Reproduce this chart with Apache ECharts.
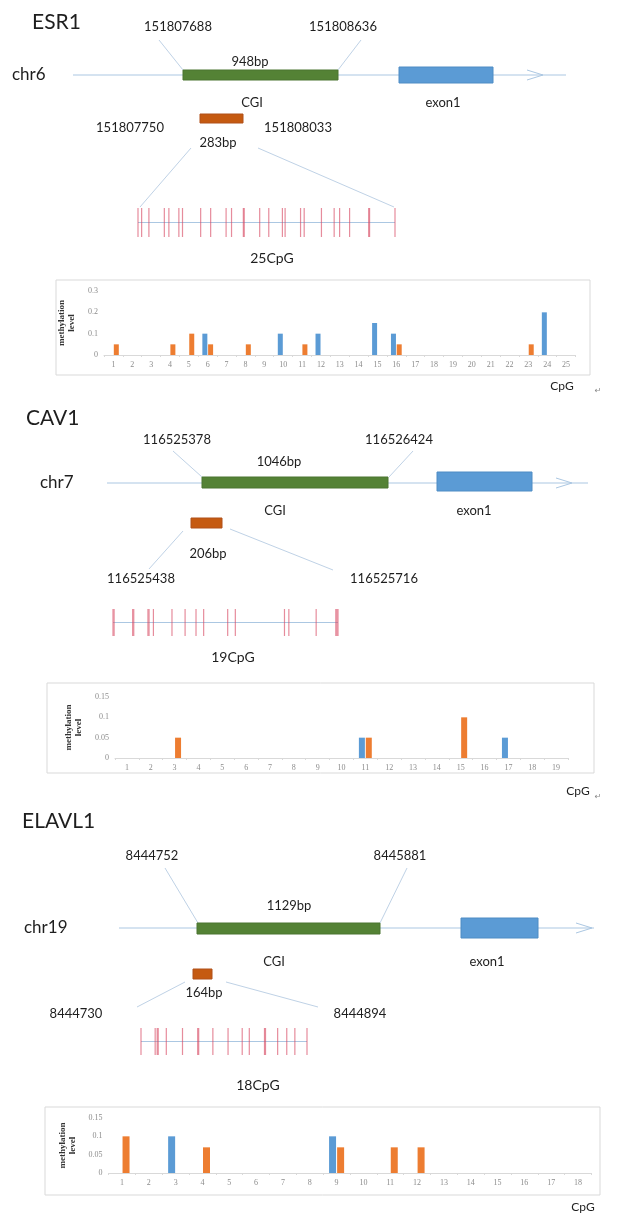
<!DOCTYPE html>
<html>
<head>
<meta charset="utf-8">
<script src="https://cdn.jsdelivr.net/npm/echarts@6/dist/echarts.min.js"></script>
<style>
html,body{margin:0;padding:0;background:#fff;}
#main{width:624px;height:1214px;}
</style>
</head>
<body>
<div id="main"></div>
<script>
// ---------------- data ----------------
const esr1Cats = ['1','2','3','4','5','6','7','8','9','10','11','12','13','14','15','16','17','18','19','20','21','22','23','24','25'];
const esr1Blue   = [0,0,0,0,0,0.1,0,0,0,0.1,0,0.1,0,0,0.15,0.1,0,0,0,0,0,0,0,0.2,0];
const esr1Orange = [0.05,0,0,0.05,0.1,0.05,0,0.05,0,0,0.05,0,0,0,0,0.05,0,0,0,0,0,0,0.05,0,0];

const cav1Cats = ['1','2','3','4','5','6','7','8','9','10','11','12','13','14','15','16','17','18','19'];
const cav1Blue   = [0,0,0,0,0,0,0,0,0,0,0.05,0,0,0,0,0,0.05,0,0];
const cav1Orange = [0,0,0.05,0,0,0,0,0,0,0,0.05,0,0,0,0.1,0,0,0,0];

const elavCats = ['1','2','3','4','5','6','7','8','9','10','11','12','13','14','15','16','17','18'];
const elavBlue   = [0,0,0.1,0,0,0,0,0,0.1,0,0,0,0,0,0,0,0,0];
const elavOrange = [0.1,0,0,0.07,0,0,0,0,0.07,0,0.07,0.07,0,0,0,0,0,0];

// CpG positions (bp offset inside the amplicon)
const esr1Len = 283;
const esr1CpG = [0,4,12,29,34,45,49,69,80,97,103,116,117,134,144,159,162,179,183,202,216,222,233,254,255,283];
const cav1Len = 206;
const cav1CpG = [0,1,18,19,32,33,37,54,66,76,83,105,112,157,161,186,204,205,206];
const elavLen = 164;
const elavCpG = [0,14,16,17,25,41,56,57,71,86,100,107,122,123,135,144,152,164];

// text labels
const genes = ['ESR1','CAV1','ELAVL1'];
const chroms = ['chr6','chr7','chr19'];
const cgiCoords = [['151807688','151808636'],['116525378','116526424'],['8444752','8445881']];
const cgiLens = ['948bp','1046bp','1129bp'];
const ampCoords = [['151807750','151808033'],['116525438','116525716'],['8444730','8444894']];
const ampLens = ['283bp','206bp','164bp'];
const cpgCounts = ['25CpG','19CpG','18CpG'];

// ---------------- styling helpers ----------------
const FONT = 'Lato';
const LINE_C = '#abc7e2';
const LEAD_C = '#bfd2e6';
const GREEN = '#548235';
const BLUE = '#5b9bd5';
const ORANGE_BOX = '#c55a11';
const BAR_BLUE = '#5b9bd5';
const BAR_ORANGE = '#ed7d31';
const TICK_C = 'rgba(214,70,95,0.62)';

function txt(t, x, y, size, align, extra) {
  return Object.assign({
    type: 'text', x: x, y: y, silent: true,
    style: { text: t, fill: '#1e1e1e', font: size + 'px ' + FONT, align: align || 'center', verticalAlign: 'middle' }
  }, extra || {});
}
function ln(x1, y1, x2, y2, c) {
  return { type: 'line', silent: true, shape: { x1, y1, x2, y2 }, style: { stroke: c || LEAD_C, lineWidth: 1 } };
}
function rc(x, y, w, h, fill, stroke) {
  return { type: 'rect', silent: true, shape: { x, y, width: w, height: h }, style: { fill: fill, stroke: stroke || fill, lineWidth: 1 } };
}
function arrow(x, y) {
  return { type: 'polyline', silent: true, shape: { points: [[x - 16, y - 5], [x, y], [x - 16, y + 5]] }, style: { stroke: LINE_C, lineWidth: 1, fill: null } };
}

// Diagram layouts (schematic)
const L = [
  { title:[32,22], c1:[178,27], c2:[343,27], lead1:[159,40,183,70], lead2:[361,40,338,70], len:[250,62],
    chr:[12,75], line:[73,566,75], arr:[543,75], cgi:[183,70,155,10], exon:[399,67,94,16], cgiL:[252,103], exL:[443,103],
    amp:[200,114,43,9], a1:[130,128], a2:[298,128], aLen:[218,143], lead3:[191,148,140,207], lead4:[258,148,394,207], cnt:[272,258] },
  { title:[26,418], c1:[177,440], c2:[399,440], lead1:[173,451,202,477], lead2:[413,451,389,477], len:[279,462],
    chr:[40,483], line:[107,588,483], arr:[572,483], cgi:[202,477,186,11], exon:[437,472,95,19], cgiL:[275,511], exL:[474,511],
    amp:[191,518,31,10], a1:[141,579], a2:[384,579], aLen:[208,554], lead3:[183,531,149,569], lead4:[230,529,333,570], cnt:[233,657] },
  { title:[22,821], c1:[152,856], c2:[400,856], lead1:[165,868,198,923], lead2:[407,868,380,923], len:[289,906],
    chr:[24,928], line:[119,594,928], arr:[592,928], cgi:[197,923,183,11], exon:[461,918,77,20], cgiL:[274,962], exL:[487,962],
    amp:[193,969,19,10], a1:[76,1014], a2:[360,1014], aLen:[204,993], lead3:[185,982,137,1007], lead4:[226,982,318,1007], cnt:[258,1085] }
];

const graphics = [];
L.forEach((g, i) => {
  graphics.push(txt(genes[i], g.title[0], g.title[1], 21, 'left'));
  graphics.push(txt(cgiCoords[i][0], g.c1[0], g.c1[1], 13));
  graphics.push(txt(cgiCoords[i][1], g.c2[0], g.c2[1], 13));
  graphics.push(ln(...g.lead1));
  graphics.push(ln(...g.lead2));
  graphics.push(txt(cgiLens[i], g.len[0], g.len[1], 13));
  graphics.push(txt(chroms[i], g.chr[0], g.chr[1], 17, 'left'));
  graphics.push(ln(g.line[0], g.line[2], g.line[1], g.line[2], LINE_C));
  graphics.push(arrow(g.arr[0], g.arr[1]));
  graphics.push(rc(g.cgi[0], g.cgi[1], g.cgi[2], g.cgi[3], GREEN, '#4a7530'));
  graphics.push(rc(g.exon[0], g.exon[1], g.exon[2], g.exon[3], BLUE, '#4f8cc4'));
  graphics.push(txt('CGI', g.cgiL[0], g.cgiL[1], 13));
  graphics.push(txt('exon1', g.exL[0], g.exL[1], 13));
  graphics.push(rc(g.amp[0], g.amp[1], g.amp[2], g.amp[3], ORANGE_BOX, '#b0511a'));
  graphics.push(txt(ampCoords[i][0], g.a1[0], g.a1[1], 13));
  graphics.push(txt(ampCoords[i][1], g.a2[0], g.a2[1], 13));
  graphics.push(txt(ampLens[i], g.aLen[0], g.aLen[1], 13));
  graphics.push(ln(...g.lead3));
  graphics.push(ln(...g.lead4));
  graphics.push(txt(cpgCounts[i], g.cnt[0], g.cnt[1], 14));
});

// chart frames and CpG axis-title text
const frames = [[56,280,534,95],[47,683,547,90],[45,1107,555,88]];
frames.forEach(f => graphics.push({ type:'rect', silent:true, z:-1, shape:{x:f[0],y:f[1],width:f[2],height:f[3]}, style:{fill:'#fff', stroke:'#d9d9d9', lineWidth:1} }));
const cpgPos = [[562,386],[578,791],[583,1207]];
cpgPos.forEach(p => graphics.push(txt('CpG', p[0], p[1], 12)));
const markStyle = {style:{text:'\u21b5', fill:'#888', font:'8px DejaVu Sans', align:'center', verticalAlign:'middle'}};
graphics.push(txt('\u21b5', 598, 391, 8, 'center', markStyle));
graphics.push(txt('\u21b5', 598, 797, 8, 'center', JSON.parse(JSON.stringify(markStyle))));

// ---------------- grids ----------------
const barGrids = [
  { left: 104, right: 48.5, top: 291, bottom: 1214 - 355 },
  { left: 115, right: 56, top: 697, bottom: 1214 - 758 },
  { left: 108.6, right: 32.6, top: 1118, bottom: 1214 - 1173 }
];
const tickGrids = [
  { left: 138, width: 257, top: 208, height: 29 },
  { left: 113, width: 225, top: 609, height: 27 },
  { left: 141, width: 166, top: 1028, height: 27 }
];
const grids = barGrids.concat(tickGrids);

const barCfg = [
  { cats: esr1Cats, blue: esr1Blue, orange: esr1Orange, max: 0.3, interval: 0.1, bw: 5, gap: 17, fmt: v => v === 0 ? '0' : v.toFixed(1) },
  { cats: cav1Cats, blue: cav1Blue, orange: cav1Orange, max: 0.15, interval: 0.05, bw: 6, gap: 29, fmt: v => v === 0 ? '0' : String(+v.toFixed(2)) },
  { cats: elavCats, blue: elavBlue, orange: elavOrange, max: 0.15, interval: 0.05, bw: 7, gap: 31, fmt: v => v === 0 ? '0' : String(+v.toFixed(2)) }
];

const xAxes = [], yAxes = [], series = [];
barCfg.forEach((c, i) => {
  xAxes.push({
    type: 'category', gridIndex: i, data: c.cats,
    axisLine: { lineStyle: { color: '#d9d9d9' } },
    axisTick: { show: true, length: 2, lineStyle: { color: '#d9d9d9' } },
    axisLabel: { color: '#8c8c8c', fontSize: 8, fontFamily: 'Liberation Serif', margin: 6 }
  });
  yAxes.push({
    type: 'value', gridIndex: i, min: 0, max: c.max, interval: c.interval,
    axisLine: { show: false }, axisTick: { show: false }, splitLine: { show: false },
    axisLabel: { color: '#8c8c8c', fontSize: 8, fontFamily: 'Liberation Serif', margin: 6, formatter: c.fmt },
    name: 'methylation\nlevel', nameLocation: 'middle', nameRotate: 90, nameGap: c.gap,
    nameTextStyle: { fontFamily: 'Liberation Serif', fontWeight: 'bold', fontSize: 9, color: '#333', lineHeight: 10 }
  });
  series.push({ type: 'bar', xAxisIndex: i, yAxisIndex: i, data: c.blue, barWidth: c.bw, barGap: '15%', itemStyle: { color: BAR_BLUE }, silent: true });
  series.push({ type: 'bar', xAxisIndex: i, yAxisIndex: i, data: c.orange, barWidth: c.bw, barGap: '15%', itemStyle: { color: BAR_ORANGE }, silent: true });
});

const tickCfg = [
  { pos: esr1CpG, len: esr1Len },
  { pos: cav1CpG, len: cav1Len },
  { pos: elavCpG, len: elavLen }
];
tickCfg.forEach((t, k) => {
  const gi = 3 + k;
  xAxes.push({ type: 'value', gridIndex: gi, min: 0, max: t.len, show: false });
  yAxes.push({ type: 'value', gridIndex: gi, min: 0, max: 1, show: false });
  // baseline of amplicon
  series.push({
    type: 'custom', xAxisIndex: gi, yAxisIndex: gi, silent: true, data: [[0, t.len]],
    renderItem: (params, api) => {
      const a = api.coord([api.value(0), 0.5]);
      const b = api.coord([api.value(1), 0.5]);
      return { type: 'line', shape: { x1: a[0], y1: a[1], x2: b[0], y2: b[1] }, style: { stroke: LINE_C, lineWidth: 1 } };
    }
  });
  // CpG ticks
  series.push({
    type: 'custom', xAxisIndex: gi, yAxisIndex: gi, silent: true, data: t.pos.map(p => [p]),
    renderItem: (params, api) => {
      const top = api.coord([api.value(0), 1]);
      const bot = api.coord([api.value(0), 0]);
      return { type: 'line', shape: { x1: top[0], y1: top[1], x2: bot[0], y2: bot[1] }, style: { stroke: TICK_C, lineWidth: 1.2 } };
    }
  });
});

const chart = echarts.init(document.getElementById('main'), null, { renderer: 'canvas' });
chart.setOption({
  backgroundColor: '#fff',
  animation: false,
  grid: grids,
  xAxis: xAxes,
  yAxis: yAxes,
  series: series,
  graphic: { elements: graphics }
});
</script>
</body>
</html>
